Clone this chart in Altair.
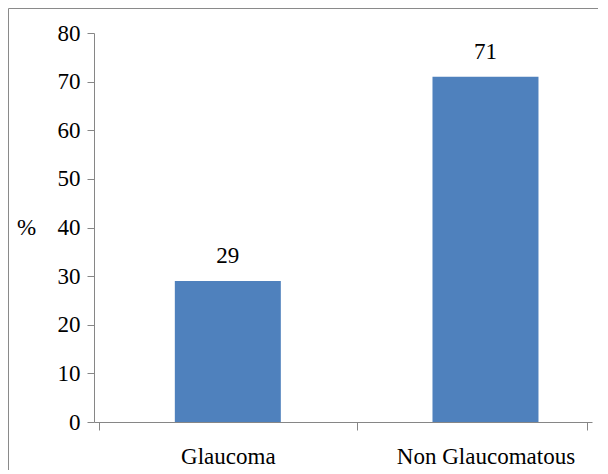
import altair as alt
import pandas as pd

# Data
categories = ["Glaucoma", "Non Glaucomatous"]
values = [29, 71]
y_ticks = [0, 10, 20, 30, 40, 50, 60, 70, 80]

# category slot index (centre of each category slot on the x axis)
slot_centres = [i + 0.5 for i in range(len(categories))]
X_MAX = 1.894  # the category axis in the reference ends short of a full second slot

df = pd.DataFrame({"category": categories, "value": values, "pos": slot_centres})

FONT = "Liberation Serif, Times New Roman, serif"
AXIS_GRAY = "#868686"
BAR_BLUE = "#4F81BD"
FS = 23

label_expr = " : ".join(
    f"datum.value == {p} ? '{c}'" for p, c in zip(slot_centres, categories)
) + " : ''"
hide_test = " || ".join(f"datum.value == {p}" for p in slot_centres)

x_enc = alt.X(
    "pos:Q",
    scale=alt.Scale(domain=[0, X_MAX], nice=False, zero=False),
    axis=alt.Axis(
        values=[0, slot_centres[0], 1, slot_centres[1], X_MAX],
        labelExpr=label_expr,
        tickOpacity={"condition": {"test": hide_test, "value": 0}, "value": 1},
        title=None,
        grid=False,
        domainColor=AXIS_GRAY,
        tickColor=AXIS_GRAY,
        tickSize=8,
        labelPadding=15,
        labelFont=FONT,
        labelFontSize=FS,
        labelColor="black",
        labelAngle=0,
        labelBaseline="top",
        labelFlush=False,
        labelOverlap=False,
    ),
)

y_enc = alt.Y(
    "value:Q",
    scale=alt.Scale(domain=[0, 80], nice=False),
    axis=alt.Axis(
        values=y_ticks,
        title="%",
        titleAngle=0,
        titleAlign="center",
        titleBaseline="middle",
        titleX=-68,
        titleY=194.5,
        titleFont=FONT,
        titleFontSize=FS,
        titleFontWeight="normal",
        titleColor="black",
        grid=False,
        domainColor=AXIS_GRAY,
        tickColor=AXIS_GRAY,
        tickSize=7,
        labelPadding=7,
        labelFont=FONT,
        labelFontSize=FS,
        labelColor="black",
    ),
)

bars = alt.Chart(df).mark_bar(size=106, color=BAR_BLUE, orient="vertical").encode(
    x=x_enc, y=y_enc
)

texts = alt.Chart(df).mark_text(
    font=FONT, fontSize=FS, color="black", baseline="alphabetic", dy=-18
).encode(x="pos:Q", y="value:Q", text="value:Q")

frame = alt.Chart(df.head(1)).mark_rect(
    fill=None, stroke="#8a8a8a", strokeWidth=1, clip=False
).encode(
    x=alt.value(-85.5), y=alt.value(-24.5), x2=alt.value(700), y2=alt.value(700)
)

chart = (
    alt.layer(frame, bars, texts)
    .properties(
        width=498,
        height=389,
        autosize=alt.AutoSizeParams(type="none"),
        padding={"left": 86, "top": 25, "right": 6, "bottom": 48},
        background="white",
    )
    .configure_view(stroke=None)
)

chart.save("out.html", embed_options={"renderer": "svg", "actions": False})
